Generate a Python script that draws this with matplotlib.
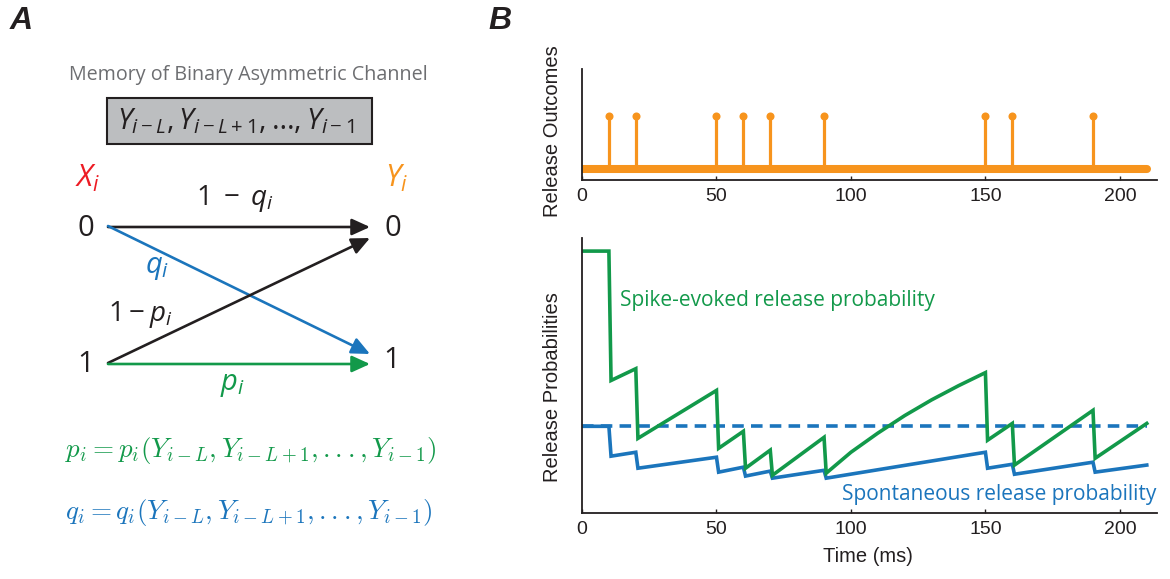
import matplotlib
matplotlib.use('Agg')
import matplotlib.pyplot as plt
from matplotlib.patches import FancyArrowPatch, Rectangle

plt.rcParams['mathtext.fontset'] = 'custom'
plt.rcParams['mathtext.it'] = 'Open Sans:italic'
plt.rcParams['mathtext.rm'] = 'Open Sans'
plt.rcParams['mathtext.bf'] = 'Open Sans:bold'
plt.rcParams['mathtext.sf'] = 'Open Sans'
plt.rcParams['font.family'] = ['Liberation Sans', 'DejaVu Sans']

GREEN = '#12994a'
BLUE = '#1b75bc'
ORANGE = '#f7941d'
RED = '#ed1c24'
AXC = '#231f20'

# ---------------- data ----------------
release_times = [10, 20, 50, 60, 70, 90, 150, 160, 190]
release_value = [1, 1, 1, 1, 1, 1, 1, 1, 1]
time_span = [0, 210]
xticks = [0, 50, 100, 150, 200]

green_time = [0, 10, 10.8, 20, 20.8, 50, 50.8, 60, 60.8, 70, 70.8, 90, 90.8,
              100, 110, 120, 130, 140, 150, 150.8, 160, 160.8, 190, 190.8, 210]
green_prob = [1.0, 1.0, 0.506, 0.551, 0.285, 0.468, 0.247, 0.312, 0.171, 0.240,
              0.144, 0.289, 0.152, 0.232, 0.305, 0.372, 0.432, 0.486, 0.536,
              0.278, 0.342, 0.183, 0.392, 0.209, 0.342]

blue_time = [0, 10, 10.8, 20, 20.8, 50, 50.8, 60, 60.8, 70, 70.8, 90, 90.8,
             150, 150.8, 160, 160.8, 190, 190.8, 210]
blue_prob = [0.331, 0.331, 0.217, 0.232, 0.171, 0.213, 0.156, 0.175, 0.141,
             0.160, 0.133, 0.163, 0.133, 0.232, 0.171, 0.186, 0.148, 0.194,
             0.156, 0.183]
blue_base = [0.331, 0.331]

W, H = 1170, 579
fig = plt.figure(figsize=(W / 100, H / 100), dpi=100)


def fx(x):
    return x / W


def fy(y):
    return 1 - y / H


# ---------------- Panel B: top ----------------
ax1 = fig.add_axes([fx(582), fy(180), fx(1157 - 582), (180 - 69) / H])
ax1.plot(time_span, [0, 0], color=ORANGE, lw=5.8, solid_capstyle='round')
ax1.vlines(release_times, 0, release_value, color=ORANGE, lw=2.3)
ax1.plot(release_times, release_value, 'o', color=ORANGE, ms=5.8, mec='none')
ax1.set_xlim(0, 213.8)
ax1.set_ylim(-0.208, 1.887)

# ---------------- Panel B: bottom ----------------
ax2 = fig.add_axes([fx(582), fy(513), fx(1157 - 582), (513 - 238) / H])
ax2.plot(time_span, blue_base, color=BLUE, lw=2.6, dashes=(3.2, 2.0))
ax2.plot(blue_time, blue_prob, color=BLUE, lw=2.6, solid_joinstyle='miter')
ax2.plot(green_time, green_prob, color=GREEN, lw=2.6, solid_joinstyle='miter')
ax2.set_xlim(0, 213.8)
ax2.set_ylim(0, 1.05)
ax2.text(14, 0.81, 'Spike-evoked release probability', color=GREEN,
         fontsize=15, family='Open Sans', va='center', ha='left')
ax2.text(213.5, 0.072, 'Spontaneous release probability', color=BLUE,
         fontsize=15, family='Open Sans', va='center', ha='right')

for ax in (ax1, ax2):
    ax.patch.set_alpha(0)
    for s in ('top', 'right'):
        ax.spines[s].set_visible(False)
    for s in ('left', 'bottom'):
        ax.spines[s].set_linewidth(1.3)
        ax.spines[s].set_color(AXC)
    ax.set_yticks([])
    ax.set_xticks(xticks)
    ax.set_xticklabels([str(v) for v in xticks])
    ax.tick_params(axis='x', direction='in', length=3, width=1, colors=AXC,
                   labelsize=14, pad=6)

fig.text(fx(552), fy(131), 'Release Outcomes', rotation=90, ha='center',
         va='center', fontsize=14.5, color=AXC)
fig.text(fx(552), fy(387), 'Release Probabilities', rotation=90, ha='center',
         va='center', fontsize=14.5, color=AXC)
fig.text(fx(868), fy(557), 'Time (ms)', ha='center', va='center',
         fontsize=14.5, color=AXC)

# ---------------- Panel A (diagram in pixel coordinates) ----------------
ax0 = fig.add_axes([0, 0, 1, 1])
ax0.set_xlim(0, W)
ax0.set_ylim(H, 0)
ax0.axis('off')
ax0.patch.set_alpha(0)

ax0.text(21, 21, 'A', fontsize=23, fontweight='bold', fontstyle='italic',
         ha='center', va='center', color=AXC)
ax0.text(500, 21, 'B', fontsize=23, fontweight='bold', fontstyle='italic',
         ha='center', va='center', color=AXC)

ax0.text(248, 75, 'Memory of Binary Asymmetric Channel', fontsize=14.2,
         family='Open Sans', color='#6d6e71', ha='center', va='center')
ax0.add_patch(Rectangle((107, 98), 265, 46, facecolor='#bcbec0',
                        edgecolor=AXC, lw=1.5))
ax0.text(236, 121, r'$Y_{i-L}, Y_{i-L+1}, \ldots, Y_{i-1}$', fontsize=21,
         ha='center', va='center', color=AXC)

ax0.text(88, 178, r'$X_i$', fontsize=22, color=RED, ha='center', va='center')
ax0.text(397, 178, r'$Y_i$', fontsize=22, color=ORANGE, ha='center', va='center')
ax0.text(86, 229, '0', fontsize=21, family='Open Sans', color=AXC,
         ha='center', va='center')
ax0.text(393, 229, '0', fontsize=21, family='Open Sans', color=AXC,
         ha='center', va='center')
ax0.text(86, 364, '1', fontsize=21, family='Open Sans', color=AXC,
         ha='center', va='center')
ax0.text(392, 361, '1', fontsize=21, family='Open Sans', color=AXC,
         ha='center', va='center')


def arrow(p0, p1, c):
    a = FancyArrowPatch(p0, p1, arrowstyle='-|>,head_length=1.1,head_width=0.5',
                        mutation_scale=10, color=c, lw=1.9,
                        shrinkA=0, shrinkB=0)
    ax0.add_patch(a)


arrow((108, 227), (370, 227), AXC)
arrow((108, 226), (370, 354), BLUE)
arrow((108, 363), (370, 238), AXC)
arrow((108, 364), (370, 364), GREEN)

ax0.text(235, 198, r'$1\;-\;q_i$', fontsize=20, color=AXC, ha='center', va='center')
ax0.text(157, 268, r'$q_i$', fontsize=21, color=BLUE, ha='center', va='center')
ax0.text(140, 315, r'$1-p_i$', fontsize=20, color=AXC, ha='center', va='center')
ax0.text(232, 385, r'$p_i$', fontsize=21, color=GREEN, ha='center', va='center')

ax0.text(65, 451, r'$p_i = p_i(Y_{i-L}, Y_{i-L+1}, ..., Y_{i-1})$', fontsize=19.5,
         color=GREEN, ha='left', va='center', math_fontfamily='cm')
ax0.text(65, 512, r'$q_i = q_i(Y_{i-L}, Y_{i-L+1}, ..., Y_{i-1})$', fontsize=19.5,
         color=BLUE, ha='left', va='center', math_fontfamily='cm')

fig.savefig('out.png', dpi=100)
